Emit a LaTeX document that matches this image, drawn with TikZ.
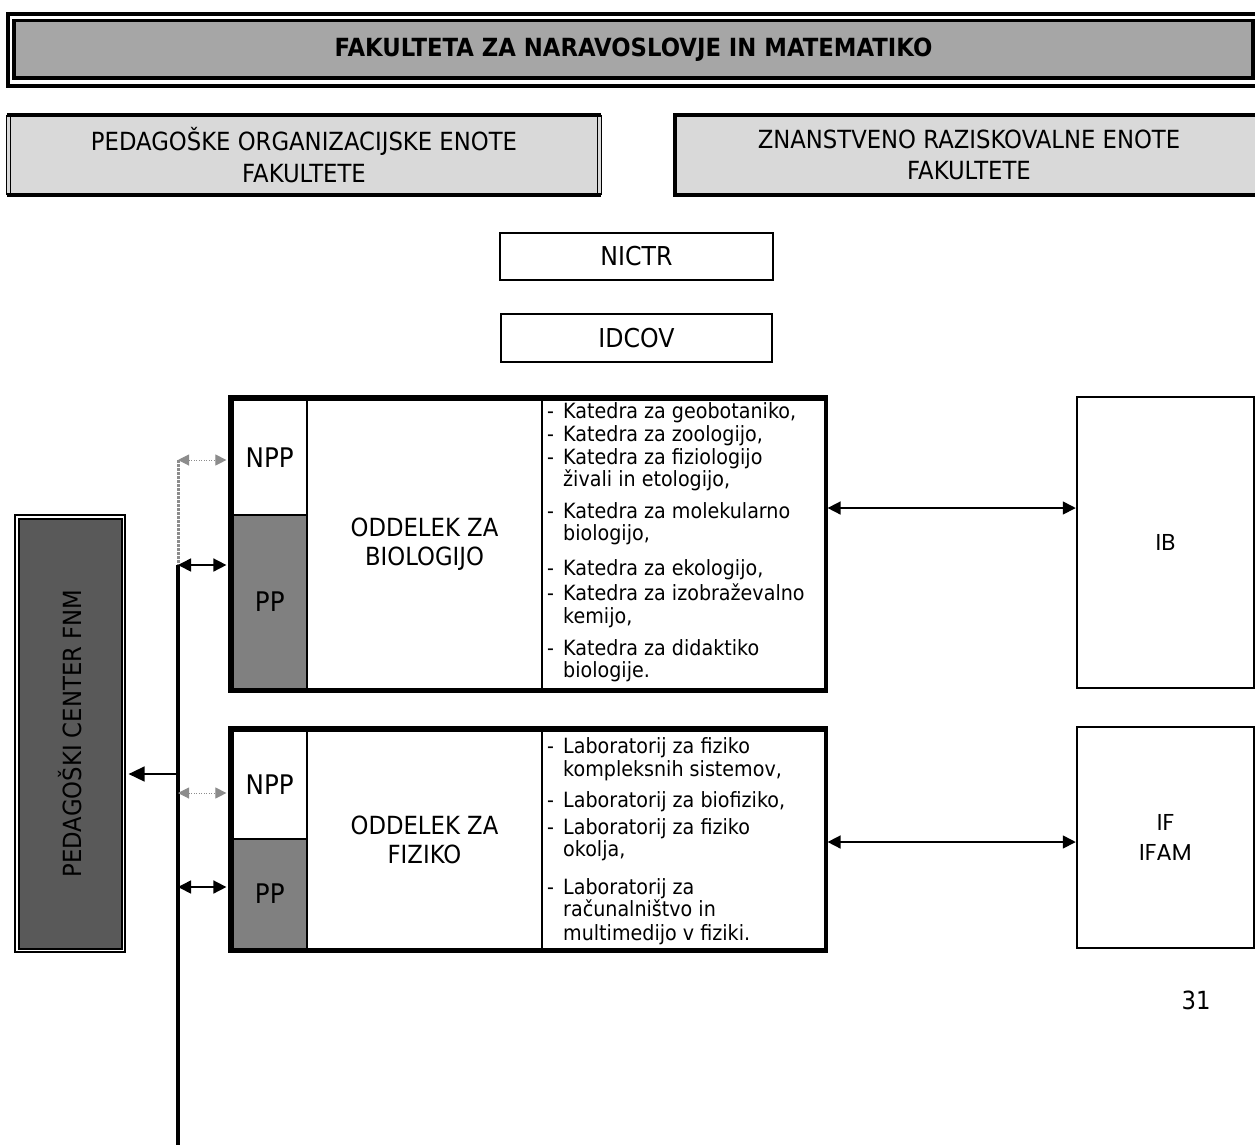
\documentclass[tikz,border=0pt]{standalone}
\usepackage{fontspec}
\setmainfont{DejaVu Sans}[FakeStretch=0.91]
\newfontfamily\geofont{Poppins}
\usetikzlibrary{arrows.meta,calc}
\definecolor{titlegray}{HTML}{A6A6A6}
\definecolor{rowgray}{HTML}{D9D9D9}
\definecolor{ppgray}{HTML}{808080}
\definecolor{pcgray}{HTML}{595959}
\definecolor{dotgray}{HTML}{8C8C8C}
\newcommand\fsz[2]{\fontsize{#1}{#2}\selectfont}
\begin{document}
\begin{tikzpicture}[x=1pt,y=-1pt,
  bigtri/.tip={Triangle[length=13pt,width=13pt]},
  smalltri/.tip={Triangle[length=11pt,width=11pt]},
  cell/.style={draw,line width=2pt,inner sep=0pt,align=center,font=\fsz{25}{28.5}},
  frame/.style={draw,line width=1.2pt,inner sep=0pt},
  lst/.style={anchor=base west,inner sep=0pt,font=\fsz{21}{25}},
  biarrow/.style={line width=1.6pt,bigtri-bigtri},
  grayarrow/.style={dotgray,line width=1pt,dash pattern=on 1pt off 1.5pt,smalltri-smalltri},
  rowbox/.style={fill=rowgray,inner sep=0pt,minimum height=80pt,align=center,font=\fsz{25}{31.5}},
  smallbox/.style={draw,line width=2pt,inner sep=0pt,font=\fsz{26}{30}}
]
\useasboundingbox (0,0) rectangle (1255,1144);
\clip (0,0) rectangle (1255,1144);

% title
\node[draw,line width=4pt,minimum width=1254.5pt,minimum height=72pt,inner sep=0pt] (titleframe) at (634.75,50) {};
\node[draw,line width=3.5pt,fill=titlegray,minimum width=1239pt,minimum height=57.5pt,inner sep=0pt,font=\fsz{25}{30}\bfseries] (title) at (633.5,49.25) {FAKULTETA ZA NARAVOSLOVJE IN MATEMATIKO};

% second row
\node[rowbox,minimum width=594pt] (poe) at (304,155) {PEDAGOŠKE ORGANIZACIJSKE ENOTE\\FAKULTETE};
\draw[line width=4pt] (poe.north west) -- (poe.north east) (poe.south west) -- (poe.south east);
\draw[line width=1.3pt] (poe.north west) -- (poe.south west)
  ([xshift=4pt]poe.north west) -- ([xshift=4pt]poe.south west)
  (poe.north east) -- (poe.south east)
  ([xshift=-4pt]poe.north east) -- ([xshift=-4pt]poe.south east);
\node[rowbox,draw,line width=4pt,minimum width=588pt] (zre) at (969,155) {ZNANSTVENO RAZISKOVALNE ENOTE\\FAKULTETE};

% NICTR, IDCOV
\node[smallbox,minimum width=273pt,minimum height=47pt] (nictr) at (636.5,256.5) {NICTR};
\node[smallbox,minimum width=271pt,minimum height=48pt] (idcov) at (636.5,338) {IDCOV};

% biology block
\node[frame,minimum width=598pt,minimum height=296pt] (bioFrame) at (528,544) {};
\node[cell,minimum width=74.5pt,minimum height=115.5pt,font=\fsz{27}{30}] (bioNPP) at (269.75,457.25) {NPP};
\node[cell,fill=ppgray,minimum width=74.5pt,minimum height=173.5pt,font=\fsz{27}{30}] (bioPP) at (269.75,601.75) {PP};
\node[cell,minimum width=235pt,minimum height=289pt] (bioMain) at (424.5,544) {ODDELEK ZA\\BIOLOGIJO};
\node[cell,minimum width=283pt,minimum height=289pt] (bioList) at (683.5,544) {};
\draw[line width=2.5pt] (bioNPP.north west) rectangle (bioList.south east);

\node[lst] (bd1) at (547,418) {-};
\node[lst] (b1) at (563,418) {Katedra za geobotaniko,};
\node[lst] (bd2) at (547,441.5) {-};
\node[lst] (b2) at (563,441.5) {Katedra za zoologijo,};
\node[lst] (bd3) at (547,464) {-};
\node[lst] (b3) at (563,464) {Katedra za fiziologijo};
\node[lst] (b3b) at (563,486.5) {živali in etologijo,};
\node[lst] (bd4) at (547,518) {-};
\node[lst] (b4) at (563,518) {Katedra za molekularno};
\node[lst] (b4b) at (563,540.5) {biologijo,};
\node[lst] (bd5) at (547,575) {-};
\node[lst] (b5) at (563,575) {Katedra za ekologijo,};
\node[lst] (bd6) at (547,600.5) {-};
\node[lst] (b6) at (563,600.5) {Katedra za izobraževalno};
\node[lst] (b6b) at (563,623) {kemijo,};
\node[lst] (bd7) at (547,655) {-};
\node[lst] (b7) at (563,655) {Katedra za didaktiko};
\node[lst] (b7b) at (563,677) {biologije.};

% physics block
\node[frame,minimum width=598pt,minimum height=225pt] (physFrame) at (528,839.5) {};
\node[cell,minimum width=74.5pt,minimum height=108.5pt,font=\fsz{27}{30}] (physNPP) at (269.75,784.75) {NPP};
\node[cell,fill=ppgray,minimum width=74.5pt,minimum height=110pt,font=\fsz{27}{30}] (physPP) at (269.75,894) {PP};
\node[cell,minimum width=235pt,minimum height=218.5pt] (physMain) at (424.5,839.75) {ODDELEK ZA\\FIZIKO};
\node[cell,minimum width=283pt,minimum height=218.5pt] (physList) at (683.5,839.75) {};
\draw[line width=2.5pt] (physNPP.north west) rectangle (physList.south east);

\node[lst] (pd1) at (547,753) {-};
\node[lst] (p1) at (563,753) {Laboratorij za fiziko};
\node[lst] (p1b) at (563,776) {kompleksnih sistemov,};
\node[lst] (pd2) at (547,807) {-};
\node[lst] (p2) at (563,807) {Laboratorij za biofiziko,};
\node[lst] (pd3) at (547,834) {-};
\node[lst] (p3) at (563,834) {Laboratorij za fiziko};
\node[lst] (p3b) at (563,856.5) {okolja,};
\node[lst] (pd4) at (547,894) {-};
\node[lst] (p4) at (563,894) {Laboratorij za};
\node[lst] (p4b) at (563,916.5) {računalništvo in};
\node[lst] (p4c) at (563,940.5) {multimedijo v fiziki.};

% institutes
\node[draw,line width=2.5pt,inner sep=0pt,minimum width=177pt,minimum height=291pt,font=\geofont\fsz{23}{30}] (IB) at (1165.5,542.5) {IB};
\node[draw,line width=2.5pt,inner sep=0pt,minimum width=177pt,minimum height=221pt,align=center,font=\geofont\fsz{23}{30}] (IF) at (1165.5,837.5) {IF\\IFAM};

% pedagoski center
\node[frame,minimum width=110pt,minimum height=437pt] (pcFrame) at (70,733.5) {};
\node[draw,line width=2pt,fill=pcgray,inner sep=0pt,rotate=90,minimum width=430pt,minimum height=103pt,font=\fsz{25}{30}] (pc) at (70,733.5) {PEDAGOŠKI CENTER FNM};

% arrows to institutes
\draw[biarrow] (bioFrame.east |- 0,508) -- (IB.west |- 0,508);
\draw[biarrow] (physFrame.east |- 0,842) -- (IF.west |- 0,842);

% bus
\coordinate (busTop) at (178,460);
\coordinate (busMid) at (178,565);
\coordinate (busBot) at (178,1160);
\draw[dotgray,line width=3pt,dash pattern=on 2.5pt off 1.5pt] (busTop) -- (busMid);
\draw[line width=3.5pt] (busMid) -- (busBot);
\draw[grayarrow] (busTop) -- ([xshift=-2pt]bioFrame.west |- busTop);
\draw[biarrow] (busMid) -- ([xshift=-2pt]bioFrame.west |- busMid);
\draw[line width=1.6pt,-{Triangle[length=16pt,width=15pt]}] (busMid |- 0,774) -- ([xshift=3pt]pcFrame.east |- 0,774);
\draw[grayarrow] (busMid |- 0,793) -- ([xshift=-2pt]physFrame.west |- 0,793);
\draw[biarrow] (busMid |- 0,887) -- ([xshift=-2pt]physFrame.west |- 0,887);

% page number
\node[inner sep=0pt,font=\fsz{25}{30}] (pagenum) at (1196,1000) {31};
\end{tikzpicture}
\end{document}
